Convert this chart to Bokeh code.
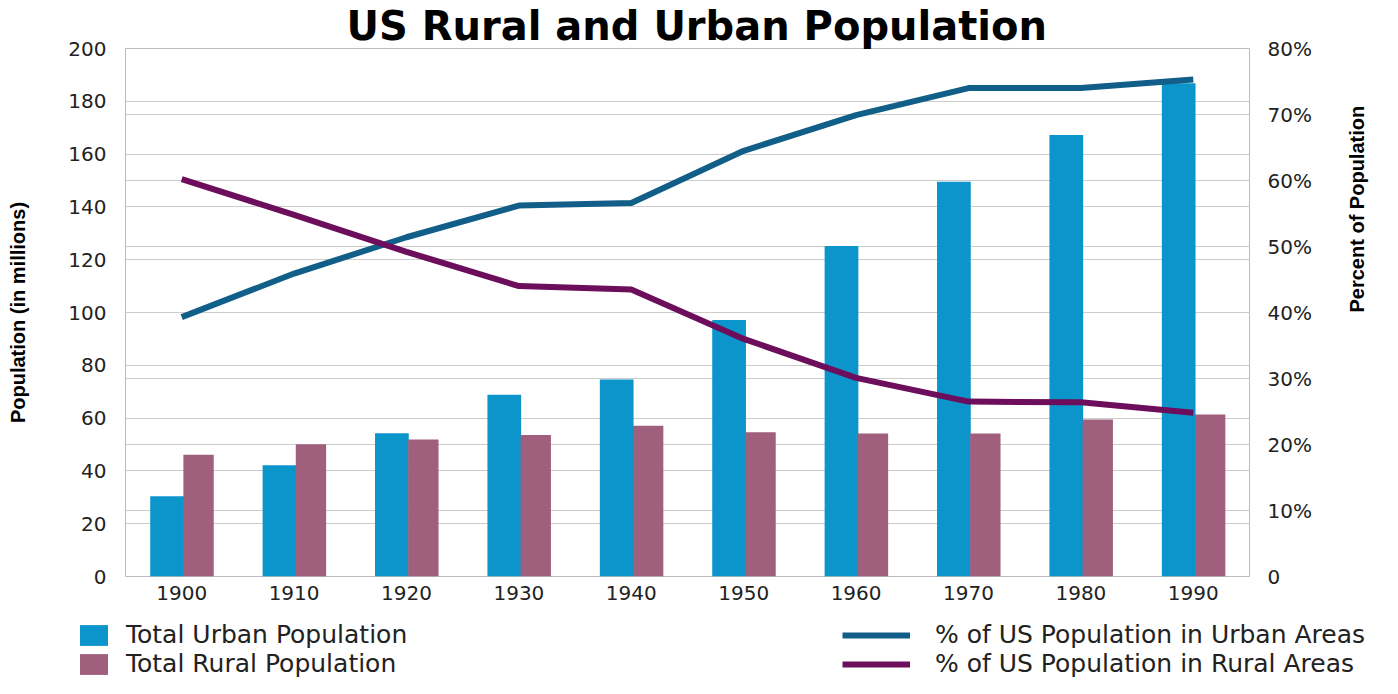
import math
from bokeh.plotting import figure
from bokeh.layouts import column, row
from bokeh.models import (Range1d, FactorRange, LinearAxis, FixedTicker, Grid,
                          Legend, LegendItem, ColumnDataSource)
from bokeh.transform import dodge
from bokeh.embed import file_html
from bokeh.resources import INLINE

# ---------------- data ----------------
years = ["1900", "1910", "1920", "1930", "1940", "1950", "1960", "1970", "1980", "1990"]
urban_pop = [30.4, 42.1, 54.3, 68.8, 74.6, 97.2, 125.2, 149.5, 167.2, 186.8]   # millions
rural_pop = [46.1, 50.1, 51.9, 53.6, 57.1, 54.6, 54.2, 54.2, 59.5, 61.4]       # millions
urban_pct = [39.3, 45.9, 51.4, 56.2, 56.6, 64.5, 69.9, 74.0, 74.0, 75.3]       # percent
rural_pct = [60.2, 54.8, 49.2, 44.0, 43.5, 36.0, 30.1, 26.5, 26.4, 24.8]       # percent
left_ticks = [0, 20, 40, 60, 80, 100, 120, 140, 160, 180, 200]
right_ticks = [0, 10, 20, 30, 40, 50, 60, 70, 80]
right_tick_labels = ["0", "10%", "20%", "30%", "40%", "50%", "60%", "70%", "80%"]

title_text = "US Rural and Urban Population"
left_title = "Population (in millions)"
right_title = "Percent of Population"
legend_bars = ["Total Urban Population", "Total Rural Population"]
legend_lines = ["% of US Population in Urban Areas", "% of US Population in Rural Areas"]

# ---------------- style ----------------
URBAN_BAR = "#0C95CB"
RURAL_BAR = "#A05F7C"
URBAN_LINE = "#115F88"
RURAL_LINE = "#6C0E5B"
GRID = "#CCCCCC"
TEXT = "#222222"
FONT = "DejaVu Sans"

W = 1382
MAIN_H = 610
LEG_H = 68
ML, MR, MT, MB = 125, 133, 44, 34

src = ColumnDataSource(dict(year=years, urban_pop=urban_pop, rural_pop=rural_pop,
                            urban_pct=urban_pct, rural_pct=rural_pct))

# ---------------- main chart ----------------
p = figure(width=W, height=MAIN_H, x_range=FactorRange(*years), y_range=Range1d(0, 200),
           output_backend="svg", toolbar_location=None, title=title_text,
           min_border_left=ML, min_border_right=MR, min_border_top=MT, min_border_bottom=MB)
p.title.align = "left"
p.title.offset = 221
p.title.standoff = 0
p.title.text_font = FONT
p.title.text_font_style = "bold"
p.title.text_font_size = "40px"
p.title.text_color = "black"

p.extra_y_ranges = {"pct": Range1d(0, 80)}
p.background_fill_color = "white"
p.border_fill_color = "white"
p.outline_line_color = "#BBBBBB"
p.outline_line_width = 1

p.vbar(x=dodge("year", -0.13, range=p.x_range), top="urban_pop", width=0.30,
       source=src, fill_color=URBAN_BAR, line_color=None)
p.vbar(x=dodge("year", 0.15, range=p.x_range), top="rural_pop", width=0.27,
       source=src, fill_color=RURAL_BAR, line_color=None)

p.line(x="year", y="urban_pct", source=src, y_range_name="pct",
       line_color=URBAN_LINE, line_width=6)
p.line(x="year", y="rural_pct", source=src, y_range_name="pct",
       line_color=RURAL_LINE, line_width=6)

p.xgrid.visible = False
p.ygrid.ticker = FixedTicker(ticks=left_ticks)
p.ygrid.grid_line_color = GRID

right_axis = LinearAxis(y_range_name="pct", ticker=FixedTicker(ticks=right_ticks),
                        major_label_overrides={t: s for t, s in zip(right_ticks, right_tick_labels)})
p.add_layout(right_axis, "right")

g2 = Grid(dimension=1, ticker=FixedTicker(ticks=right_ticks), y_range_name="pct",
          grid_line_color=GRID)
p.add_layout(g2)

p.yaxis[0].ticker = FixedTicker(ticks=left_ticks)

for ax in [p.xaxis[0], p.yaxis[0], right_axis]:
    ax.axis_line_color = None
    ax.major_tick_line_color = None
    ax.minor_tick_line_color = None
    ax.major_tick_in = 0
    ax.major_tick_out = 0
    ax.minor_tick_in = 0
    ax.minor_tick_out = 0
    ax.major_label_text_font = FONT
    ax.major_label_text_font_size = "20px"
    ax.major_label_text_color = TEXT
    ax.axis_label_text_font = "Liberation Sans"
    ax.axis_label_text_font_style = "bold"
    ax.axis_label_text_font_size = "20px"
    ax.axis_label_text_color = "black"
p.yaxis[0].major_label_standoff = 19
right_axis.major_label_standoff = 18
p.xaxis[0].major_label_standoff = 9

p.yaxis[0].axis_label = left_title
p.yaxis[0].axis_label_standoff = 36
right_axis.axis_label = right_title
right_axis.axis_label_standoff = 42
right_axis.axis_label_orientation = math.pi / 2

# ---------------- legend strip (two figures side by side) ----------------
LW_L = 700
LW_R = W - LW_L

def legend_fig(width):
    f = figure(width=width, height=LEG_H, x_range=FactorRange(*years),
               y_range=Range1d(1000, 1001),  # data kept out of view: strip shows only the legend
               x_axis_location=None, y_axis_location=None,
               output_backend="svg", toolbar_location=None, title=None,
               min_border=0, min_border_left=0, min_border_right=0,
               min_border_top=0, min_border_bottom=0)
    f.grid.visible = False
    f.outline_line_color = None
    f.background_fill_color = "white"
    f.border_fill_color = "white"
    return f

legL = legend_fig(LW_L)
s_u = legL.vbar(x="year", top="urban_pop", width=0.3, source=src,
                fill_color=URBAN_BAR, line_color=None)
s_r = legL.vbar(x="year", top="rural_pop", width=0.3, source=src,
                fill_color=RURAL_BAR, line_color=None)

legR = legend_fig(LW_R)
s_lu = legR.line(x="year", y="urban_pct", source=src, line_color=URBAN_LINE, line_width=6)
s_lr = legR.line(x="year", y="rural_pct", source=src, line_color=RURAL_LINE, line_width=6)

common = dict(orientation="vertical", spacing=0, padding=0, margin=0,
              border_line_color=None, background_fill_alpha=0,
              label_text_font=FONT, label_text_font_size="25px", label_text_color=TEXT,
              glyph_height=26, label_height=29)
leg1 = Legend(items=[LegendItem(label=legend_bars[0], renderers=[s_u]),
                     LegendItem(label=legend_bars[1], renderers=[s_r])],
              location=(76, 0), glyph_width=35, label_standoff=15, **common)
leg2 = Legend(items=[LegendItem(label=legend_lines[0], renderers=[s_lu]),
                     LegendItem(label=legend_lines[1], renderers=[s_lr])],
              location=(842 - LW_L, 0), glyph_width=68, label_standoff=25, **common)
legL.add_layout(leg1)
legR.add_layout(leg2)

layout = column(p, row(legL, legR, spacing=0), spacing=0)
open("out.html", "w").write(file_html(layout, INLINE))
